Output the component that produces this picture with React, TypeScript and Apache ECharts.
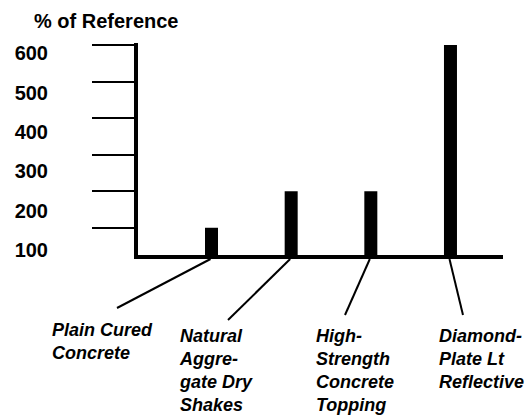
import React, { useEffect, useRef } from "react";
import * as echarts from "echarts";

const categories = [
  "Plain Cured\nConcrete",
  "Natural\nAggre-\ngate Dry\nShakes",
  "High-\nStrength\nConcrete\nTopping",
  "Diamond-\nPlate Lt\nReflective",
];
const values = [100, 200, 200, 600];
const tickValues = [100, 200, 300, 400, 500, 600];
const yTitle = "% of Reference";

// layout constants (pixels) for the category captions and leader lines
const captionPos = [
  [52, 318],
  [180, 324],
  [316, 324],
  [439, 324],
];
const leaderEnds = [
  [117, 308],
  [228, 320],
  [345, 315],
  [463, 315],
];

const FONT = "'Liberation Sans', Arial, Helvetica, sans-serif";

export default function App() {
  const ref = useRef<HTMLDivElement>(null);
  useEffect(() => {
    document.body.style.margin = "0";
    const chart = echarts.init(ref.current!, null, { renderer: "svg" });
    chart.setOption({
      animation: false,
      backgroundColor: "#fff",
      title: {
        text: yTitle,
        left: 29,
        top: 6,
        textStyle: { fontFamily: FONT, fontSize: 20, fontWeight: "bold", color: "#000" },
      },
      grid: [
        { left: 136, right: 27, top: 45, bottom: 159, outerBoundsMode: "none", containLabel: false },
        { left: 171.7, right: 37.7, top: 45, bottom: 159, outerBoundsMode: "none", containLabel: false },
      ],
      xAxis: [
        {
          type: "value",
          gridIndex: 0,
          min: 0,
          max: 1,
          axisLine: { show: true, lineStyle: { color: "#000", width: 4, cap: "square" } },
          axisTick: { show: false },
          axisLabel: { show: false },
          splitLine: { show: false },
        },
        {
          type: "category",
          gridIndex: 1,
          data: categories,
          show: false,
        },
      ],
      yAxis: [
        {
          type: "value",
          gridIndex: 0,
          position: "left",
          min: 20,
          max: 600,
          axisLine: { show: true, lineStyle: { color: "#000", width: 4, cap: "square" } },
          axisTick: {
            show: true,
            length: 44,
            customValues: tickValues,
            lineStyle: { color: "#000", width: 2 },
          },
          axisLabel: { show: false },
          splitLine: { show: false },
        },
        {
          type: "value",
          gridIndex: 0,
          position: "left",
          offset: 0,
          min: 82,
          max: 621,
          axisLine: { show: false },
          axisTick: { show: false },
          splitLine: { show: false },
          axisLabel: {
            show: true,
            customValues: tickValues,
            margin: 88,
            fontFamily: FONT,
            fontSize: 20,
            fontWeight: "bold",
            color: "#000",
          },
        },
        {
          type: "value",
          gridIndex: 1,
          min: 20,
          max: 600,
          show: false,
        },
      ],
      series: [
        {
          type: "bar",
          xAxisIndex: 1,
          yAxisIndex: 2,
          data: values,
          barWidth: 13,
          itemStyle: { color: "#000" },
          silent: true,
        },
      ],
    });

    const graphics: any[] = [];
    categories.forEach((c, i) => {
      const p = chart.convertToPixel({ gridIndex: 1 } as any, [i, 20]) as number[];
      graphics.push({
        type: "line",
        shape: { x1: p[0] - 1, y1: p[1] + 2, x2: leaderEnds[i][0], y2: leaderEnds[i][1] },
        style: { stroke: "#000", lineWidth: 2 },
        silent: true,
      });
      graphics.push({
        type: "text",
        x: captionPos[i][0],
        y: captionPos[i][1],
        style: {
          text: c,
          font: `italic bold 18px ${FONT}`,
          fill: "#000",
          lineHeight: 23,
          verticalAlign: "top",
          align: "left",
        },
        silent: true,
      });
    });
    chart.setOption({ graphic: graphics });

    return () => chart.dispose();
  }, []);
  return (
    <div
      ref={ref}
      style={{ position: "fixed", left: 0, top: 0, width: 528, height: 416 }}
    />
  );
}
